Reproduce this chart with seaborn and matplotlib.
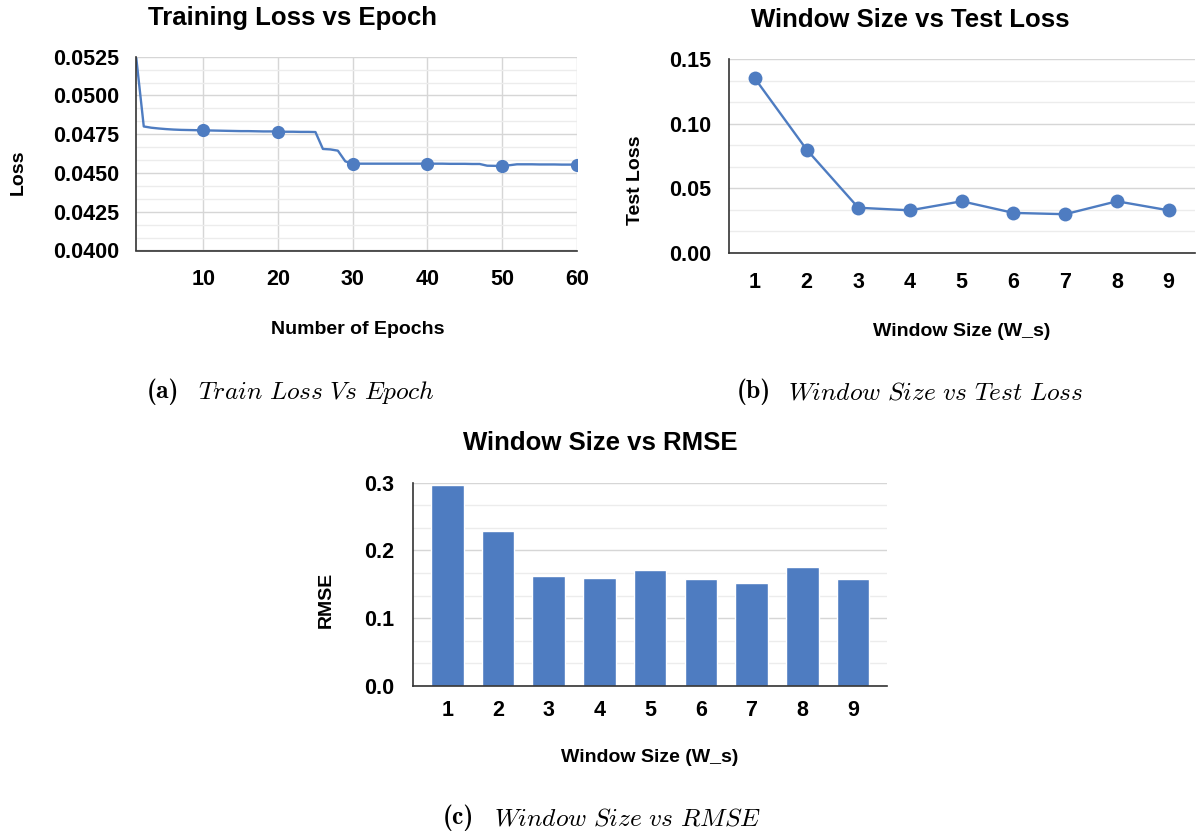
import matplotlib
matplotlib.use("Agg")
import matplotlib.pyplot as plt
import seaborn as sns
import pandas as pd
from matplotlib.ticker import MultipleLocator, AutoMinorLocator, FormatStrFormatter

# ---------------- data ----------------
epochs = list(range(1, 61))
train_loss = [
    0.05240, 0.04800, 0.04792, 0.04787, 0.04783, 0.04780, 0.04778, 0.04777, 0.04776, 0.04775,
    0.04774, 0.04773, 0.04772, 0.04771, 0.04770, 0.04770, 0.04769, 0.04768, 0.04768, 0.04767,
    0.04766, 0.04766, 0.04765, 0.04765, 0.04764, 0.04655, 0.04652, 0.04644, 0.04575, 0.04560,
    0.04560, 0.04560, 0.04560, 0.04560, 0.04560, 0.04560, 0.04560, 0.04560, 0.04560, 0.04560,
    0.04560, 0.04560, 0.04559, 0.04559, 0.04559, 0.04558, 0.04558, 0.04547, 0.04546, 0.04545,
    0.04550, 0.04556, 0.04556, 0.04556, 0.04555, 0.04555, 0.04555, 0.04554, 0.04554, 0.04554,
]
marker_epochs = [10, 20, 30, 40, 50, 60]

window_sizes = [1, 2, 3, 4, 5, 6, 7, 8, 9]
test_loss = [0.135, 0.080, 0.035, 0.033, 0.040, 0.031, 0.030, 0.040, 0.033]
rmse = [0.297, 0.229, 0.163, 0.160, 0.171, 0.158, 0.152, 0.176, 0.158]

titles = ["Training Loss vs Epoch", "Window Size vs Test Loss", "Window Size vs RMSE"]
xlabels = ["Number of Epochs", "Window Size (W_s)", "Window Size (W_s)"]
ylabels = ["Loss", "Test Loss", "RMSE"]
cap_tags = ["(a)", "(b)", "(c)"]
cap_texts = [r"$\mathit{Train\ Loss\ Vs\ Epoch}$",
             r"$\mathit{Window\ Size\ vs\ Test\ Loss}$",
             r"$\mathit{Window\ Size\ vs\ RMSE}$"]

# ---------------- style ----------------
sns.set_theme(style="white")
plt.rcParams['font.family'] = ['Liberation Sans', 'DejaVu Sans']
plt.rcParams['mathtext.fontset'] = 'cm'

BLUE = "#4e7cc1"
MAJ_GRID = "#d6d6d6"
MIN_GRID = "#ececec"
SPINE = "#333333"
TXT = "#000000"

W, H = 1198, 833
fig = plt.figure(figsize=(W / 100, H / 100), dpi=100)


def rect(l, t, r, b):
    return [l / W, 1 - b / H, (r - l) / W, (b - t) / H]


def ftext(x, y, s, **kw):
    kw.setdefault('ha', 'center')
    return fig.text(x / W, 1 - y / H, s, va='center', **kw)


def style_axes(ax):
    for s in ['top', 'right']:
        ax.spines[s].set_visible(False)
    for s in ['left', 'bottom']:
        ax.spines[s].set_color(SPINE)
        ax.spines[s].set_linewidth(1.2)
    for lab in ax.get_xticklabels() + ax.get_yticklabels():
        lab.set_fontweight('bold')
        lab.set_fontsize(15.5)
        lab.set_color(TXT)
    ax.set_xlabel("")
    ax.set_ylabel("")
    ax.set_axisbelow(True)


# ---------------- (a) training loss ----------------
ax1 = fig.add_axes(rect(136.3, 56.7, 576.7, 250.5))
df1 = pd.DataFrame({"epoch": epochs, "loss": train_loss})
mk_idx = [epochs.index(e) for e in marker_epochs]
sns.lineplot(data=df1, x="epoch", y="loss", ax=ax1, color=BLUE, linewidth=1.7,
             estimator=None, marker='o', markersize=9.5, markevery=mk_idx,
             markeredgewidth=0, clip_on=True)
ax1.set_xlim(1, 60)
ax1.set_ylim(0.04, 0.0525)
ax1.set_xticks(marker_epochs)
ax1.yaxis.set_major_locator(MultipleLocator(0.0025))
ax1.yaxis.set_major_formatter(FormatStrFormatter('%.4f'))
ax1.yaxis.set_minor_locator(AutoMinorLocator(3))
ax1.grid(True, which='major', axis='both', color=MAJ_GRID, linewidth=1.0)
ax1.grid(True, which='minor', axis='y', color=MIN_GRID, linewidth=1.0)
ax1.tick_params(axis='x', which='major', direction='inout', length=12, width=1.2, color=SPINE, pad=7)
ax1.tick_params(axis='y', which='major', direction='out', length=6, width=1.2, color=SPINE, pad=6)
ax1.tick_params(axis='y', which='minor', length=0)
style_axes(ax1)

# ---------------- (b) test loss ----------------
ax2 = fig.add_axes(rect(729, 59, 1194.5, 253))
df2 = pd.DataFrame({"w": window_sizes, "loss": test_loss})
sns.lineplot(data=df2, x="w", y="loss", ax=ax2, color=BLUE, linewidth=1.7,
             estimator=None, marker='o', markersize=10, markeredgewidth=0)
ax2.set_xlim(0.5, 9.5)
ax2.set_ylim(0, 0.15)
ax2.set_xticks(window_sizes)
ax2.yaxis.set_major_locator(MultipleLocator(0.05))
ax2.yaxis.set_major_formatter(FormatStrFormatter('%.2f'))
ax2.yaxis.set_minor_locator(AutoMinorLocator(3))
ax2.grid(True, which='major', axis='y', color=MAJ_GRID, linewidth=1.0)
ax2.grid(True, which='minor', axis='y', color=MIN_GRID, linewidth=1.0)
ax2.tick_params(axis='x', which='major', direction='inout', length=12, width=1.2, color=SPINE, pad=8)
ax2.tick_params(axis='y', which='major', direction='out', length=7, width=1.2, color=SPINE, pad=6)
ax2.tick_params(axis='y', which='minor', length=0)
style_axes(ax2)

# ---------------- (c) RMSE bars ----------------
ax3 = fig.add_axes(rect(413.3, 482.7, 887, 686))
df3 = pd.DataFrame({"w": [str(w) for w in window_sizes], "rmse": rmse})
sns.barplot(data=df3, x="w", y="rmse", ax=ax3, color=BLUE, saturation=1, width=0.64)
ax3.set_xlim(-0.67, 8.67)
ax3.set_ylim(0, 0.3)
ax3.yaxis.set_major_locator(MultipleLocator(0.1))
ax3.yaxis.set_major_formatter(FormatStrFormatter('%.1f'))
ax3.yaxis.set_minor_locator(AutoMinorLocator(3))
ax3.grid(True, which='major', axis='y', color=MAJ_GRID, linewidth=1.0)
ax3.grid(True, which='minor', axis='y', color=MIN_GRID, linewidth=1.0)
ax3.tick_params(axis='x', which='major', length=0, pad=10)
ax3.tick_params(axis='y', which='major', direction='out', length=8, width=1.2, color=SPINE, pad=6)
ax3.tick_params(axis='y', which='minor', direction='inout', length=6, width=1.0, color=SPINE)
style_axes(ax3)

# ---------------- texts ----------------
title_kw = dict(fontsize=18.5, fontweight='bold', color=TXT)
label_kw = dict(fontsize=14, fontweight='bold', color=TXT)

ftext(292, 18, titles[0], **title_kw)
ftext(910, 20, titles[1], **title_kw)
ftext(600, 443, titles[2], **title_kw)

ftext(358, 330, xlabels[0], **label_kw)
ftext(962, 332, xlabels[1], **label_kw)
ftext(650, 758, xlabels[2], **label_kw)

ftext(18, 172, ylabels[0], rotation=90, **label_kw)
ftext(636, 180, ylabels[1], rotation=90, **label_kw)
ftext(326, 600, ylabels[2], rotation=90, **label_kw)

# captions: bold tag + italic text, left-aligned at reference positions
cap_pos = [(147, 392), (737, 392), (443, 818)]
for (x, y), tag, txt in zip(cap_pos, cap_tags, cap_texts):
    ftext(x, y, tag, ha='left', fontsize=18.5, color=TXT,
          family=['cmb10', 'DejaVu Serif'])
    ftext(x + 51, y, txt, ha='left', fontsize=18.3, color=TXT)

fig.savefig("out.png", dpi=100)
